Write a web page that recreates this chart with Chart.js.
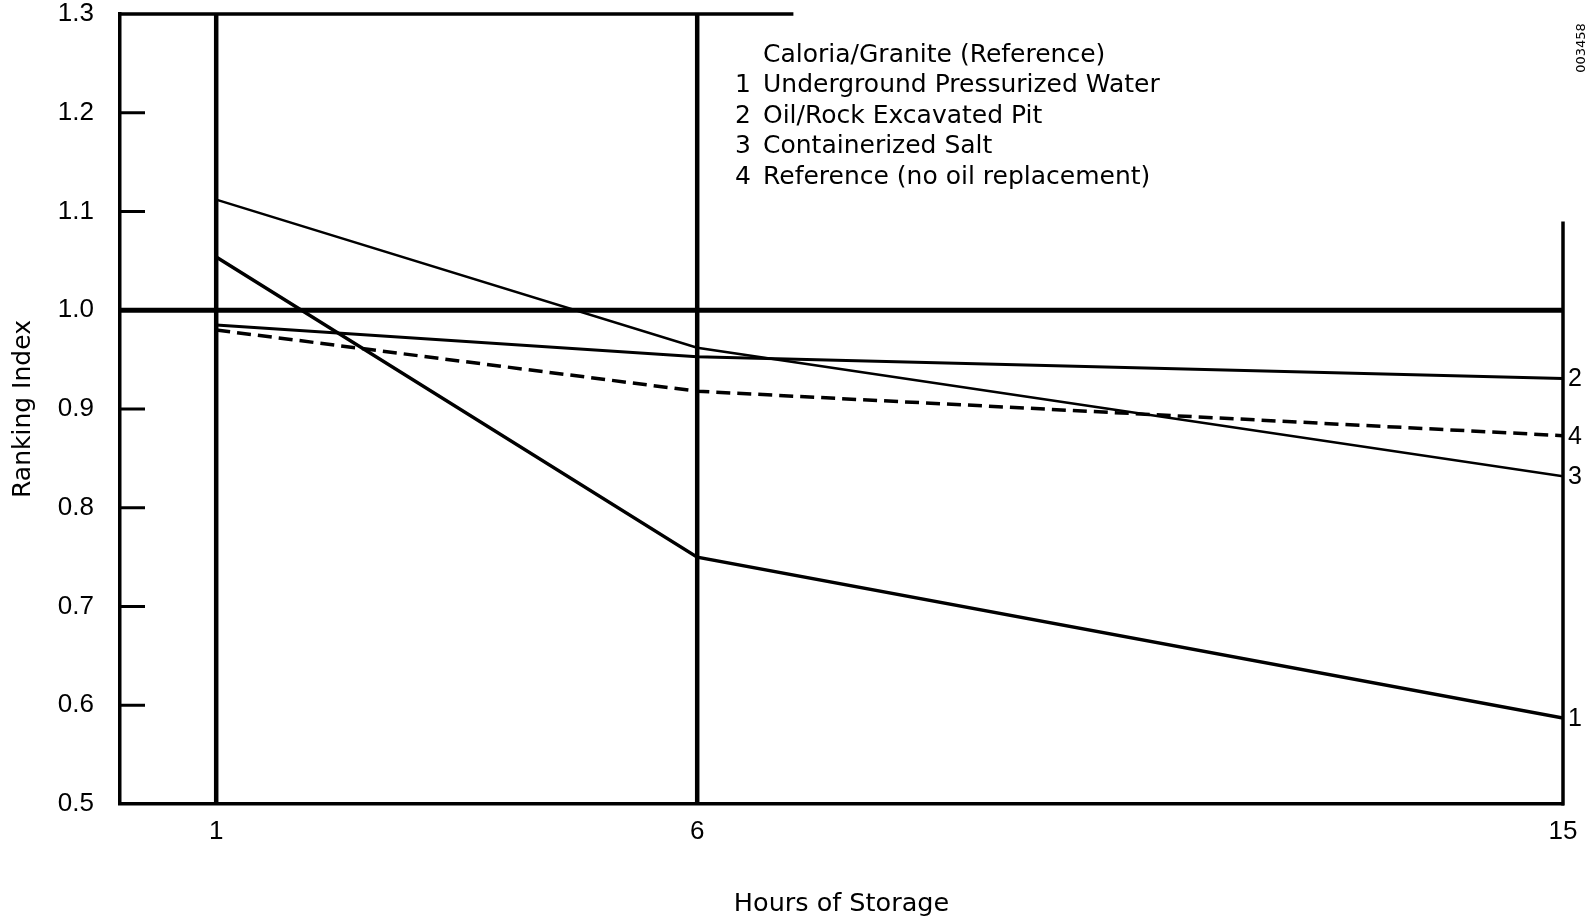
<!DOCTYPE html>
<html>
<head>
<meta charset="utf-8">
<script src="https://cdn.jsdelivr.net/npm/chart.js@4.4.1/dist/chart.umd.min.js"></script>
<style>
  html, body { margin: 0; padding: 0; background: #fff; }
  #wrap { width: 1593px; height: 922px; }
</style>
</head>
<body>
<div id="wrap"><canvas id="rankChart"></canvas></div>
<script>
// values
const hours = [1, 6, 15];
const undergroundWater = [1.054, 0.750, 0.587];
const oilRockPit = [0.985, 0.953, 0.931];
const containerizedSalt = [1.112, 0.962, 0.832];
const noOilReplacement = [0.980, 0.918, 0.873];

const referenceHours = [0, 15];
const referenceValues = [1.0, 1.0];

const xTicks = [1, 6, 15];
const yTicks = [0.5, 0.6, 0.7, 0.8, 0.9, 1.0, 1.1, 1.2, 1.3];
const markerHours = [1, 6];

const referenceName = 'Caloria/Granite (Reference)';
const seriesNames = [
  'Underground Pressurized Water',
  'Oil/Rock Excavated Pit',
  'Containerized Salt',
  'Reference (no oil replacement)'
];
const seriesTags = ['1', '2', '3', '4'];

const pts = (xs, ys) => xs.map((x, i) => ({ x: x, y: ys[i] }));
const ink = '#000';
const tickFont = { family: "'Liberation Sans', Arial, sans-serif", size: 26 };
const textFont = "'DejaVu Sans', sans-serif";

// frame pieces, inner tick marks and the two hour markers
const framePlugin = {
  id: 'frame',
  beforeDatasetsDraw(chart) {
    const { ctx, chartArea: a, scales: { x, y } } = chart;
    ctx.save();
    ctx.strokeStyle = ink;
    ctx.lineCap = 'butt';

    ctx.lineWidth = 4.5;
    markerHours.forEach(h => {
      const px = x.getPixelForValue(h);
      ctx.beginPath();
      ctx.moveTo(px, a.top);
      ctx.lineTo(px, a.bottom);
      ctx.stroke();
    });

    ctx.lineWidth = 3.5;
    // partial top border
    ctx.beginPath();
    ctx.moveTo(a.left - 1.5, a.top);
    ctx.lineTo(x.getPixelForValue(7), a.top);
    ctx.stroke();
    // partial right border
    const rx = x.getPixelForValue(15);
    ctx.beginPath();
    ctx.moveTo(rx, y.getPixelForValue(1.09));
    ctx.lineTo(rx, a.bottom + 1.5);
    ctx.stroke();

    // short inward ticks on the left axis
    ctx.lineWidth = 3;
    yTicks.forEach(v => {
      if (v === 0.5 || v === 1.0 || v === 1.3) return;
      const py = y.getPixelForValue(v);
      ctx.beginPath();
      ctx.moveTo(a.left, py);
      ctx.lineTo(a.left + 25, py);
      ctx.stroke();
    });
    ctx.restore();
  }
};

// numbers at line ends, the text key and the plate id
const notesPlugin = {
  id: 'notes',
  afterDraw(chart) {
    const { ctx } = chart;
    ctx.save();
    ctx.fillStyle = ink;

    ctx.font = "25px 'Liberation Sans', Arial, sans-serif";
    ctx.textBaseline = 'middle';
    ctx.textAlign = 'left';
    seriesTags.forEach((tag, i) => {
      const meta = chart.getDatasetMeta(i + 1);
      const last = meta.data[meta.data.length - 1];
      ctx.fillText(tag, last.x + 5, last.y + 1);
    });

    ctx.font = "25px " + textFont;
    ctx.textBaseline = 'alphabetic';
    ctx.fillText(referenceName, 763, 62);
    seriesNames.forEach((name, i) => {
      const by = 92 + i * 30.5;
      ctx.fillText(seriesTags[i], 735, by);
      ctx.fillText(name, 763, by);
    });

    ctx.font = "13px " + textFont;
    ctx.translate(1582, 48);
    ctx.rotate(-Math.PI / 2);
    ctx.textAlign = 'center';
    ctx.textBaseline = 'middle';
    ctx.fillText('003458', 0, 0);
    ctx.restore();
  }
};

new Chart(document.getElementById('rankChart'), {
  type: 'line',
  data: {
    datasets: [
      {
        label: referenceName,
        data: pts(referenceHours, referenceValues),
        borderColor: ink, borderWidth: 5
      },
      {
        label: seriesNames[0],
        data: pts(hours, undergroundWater),
        borderColor: ink, borderWidth: 3.5
      },
      {
        label: seriesNames[1],
        data: pts(hours, oilRockPit),
        borderColor: ink, borderWidth: 3
      },
      {
        label: seriesNames[2],
        data: pts(hours, containerizedSalt),
        borderColor: ink, borderWidth: 2.5
      },
      {
        label: seriesNames[3],
        data: pts(hours, noOilReplacement),
        borderColor: ink, borderWidth: 3.5, borderDash: [14, 7]
      }
    ]
  },
  options: {
    responsive: true,
    maintainAspectRatio: false,
    animation: false,
    layout: { padding: { left: 0, right: 30, top: 14, bottom: 0 } },
    elements: { point: { radius: 0 }, line: { tension: 0, fill: false } },
    plugins: { legend: { display: false }, tooltip: { enabled: false } },
    scales: {
      x: {
        type: 'linear', min: 0, max: 15,
        afterFit: s => { s.height = 118; },
        afterBuildTicks: s => { s.ticks = xTicks.map(v => ({ value: v })); },
        grid: { display: false, drawTicks: false },
        border: { display: true, color: ink, width: 3.5 },
        ticks: { color: ink, font: tickFont, padding: 12, maxRotation: 0 },
        title: {
          display: true, text: 'Hours of Storage', color: ink,
          font: { family: textFont, size: 25.5 }, padding: { top: 0, bottom: 2 }
        }
      },
      y: {
        type: 'linear', min: 0.5, max: 1.3,
        afterFit: s => { s.width = 120; s.paddingTop = 0; s.paddingBottom = 0; },
        afterBuildTicks: s => { s.ticks = yTicks.map(v => ({ value: v })); },
        grid: { display: false, drawTicks: false },
        border: { display: true, color: ink, width: 3.5 },
        ticks: { color: ink, font: tickFont, padding: 26, callback: v => v.toFixed(1) },
        title: {
          display: true, text: 'Ranking Index', color: ink,
          font: { family: textFont, size: 25 }, padding: { top: 8, bottom: 0 }
        }
      }
    }
  },
  plugins: [framePlugin, notesPlugin]
});
</script>
</body>
</html>
